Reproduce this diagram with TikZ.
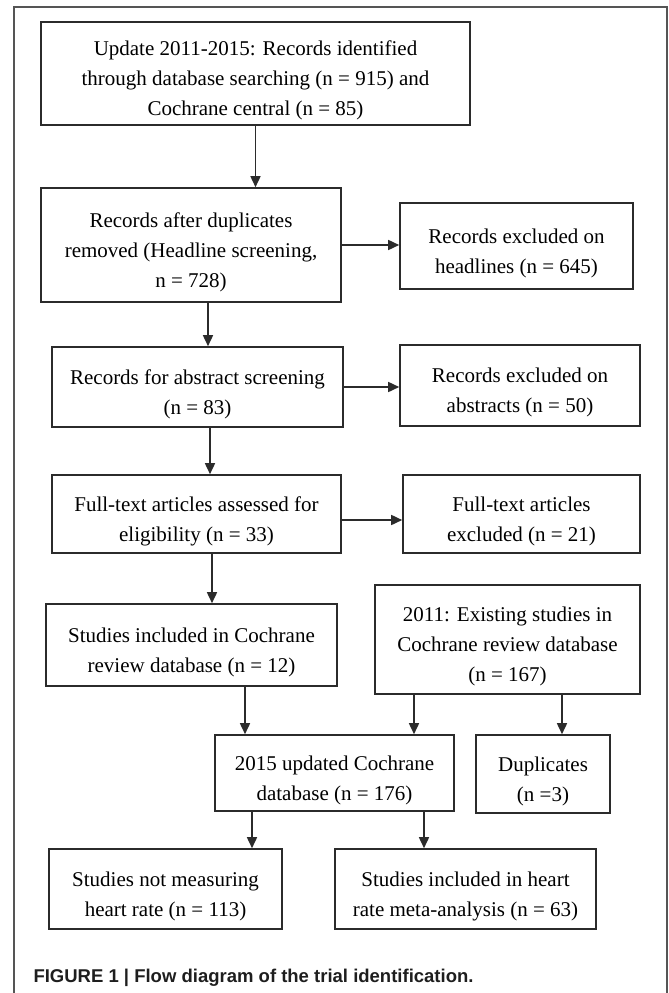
\documentclass[tikz,border=0pt]{standalone}
\usepackage{fontspec}
\setmainfont{Liberation Serif}
\newfontfamily\capfont{Liberation Sans}
\usepackage{xcolor}
\usepackage{tikz}
\usetikzlibrary{arrows.meta}
\definecolor{ink}{HTML}{2B2B2B}
\definecolor{rim}{HTML}{555555}
\definecolor{captxt}{HTML}{1E1E1E}
\tikzset{
  boxtext/.style={align=center, inner sep=0pt, text=black, yshift=-7pt,
    font=\fontsize{21}{30}\selectfont},
  box/.style={draw=ink, line width=1.6pt, inner sep=0pt, label={[boxtext]center:#1}},
  arr/.style={draw=ink, line width=1.6pt, -{Triangle[length=11pt,width=10pt]}},
  rimline/.style={draw=rim, line width=1.5pt},
  captext/.style={text=captxt, font=\capfont\bfseries\fontsize{18.5}{20}\selectfont, anchor=base west},
}

\begin{document}
\begin{tikzpicture}[x=1pt,y=-1pt]
  \useasboundingbox (0,0) rectangle (669,993);
  \draw[rimline] (14,993) -- (14,7) -- (667,7) -- (667,993);
  % boxes, left column
  \node[box={Update 2011-2015: Records identified\\through database searching (n = 915) and\\Cochrane central (n = 85)},
    minimum width=429, minimum height=103] (b1) at (255.5,73.5) {};
  \node[box={Records after duplicates\\removed (Headline screening,\\n = 728)},
    minimum width=300, minimum height=114] (b2) at (191,245) {};
  \node[box={Records for abstract screening\\(n = 83)},
    minimum width=291, minimum height=80] (b3) at (197.5,387) {};
  \node[box={Full-text articles assessed for\\eligibility (n = 33)},
    minimum width=289, minimum height=78] (b4) at (196.5,514) {};
  \node[box={Studies included in Cochrane\\review database (n = 12)},
    minimum width=291, minimum height=82] (b5) at (191.5,645) {};
  % boxes, right column
  \node[box={Records excluded on\\headlines (n = 645)},
    minimum width=233, minimum height=86] (ex1) at (516.5,246) {};
  \node[box={Records excluded on\\abstracts (n = 50)},
    minimum width=240, minimum height=81] (ex2) at (520,385.5) {};
  \node[box={Full-text articles\\excluded (n = 21)},
    minimum width=237, minimum height=78] (ex3) at (521.5,514) {};
  \node[box={2011: Existing studies in\\Cochrane review database\\(n = 167)},
    minimum width=265, minimum height=109] (old) at (507.5,639.5) {};
  % merged and final
  \node[box={2015 updated Cochrane\\database (n = 176)},
    minimum width=239, minimum height=76] (upd) at (334.5,773) {};
  \node[box={Duplicates\\(n =3)},
    minimum width=134, minimum height=78] (dup) at (543,774) {};
  \node[box={Studies not measuring\\heart rate (n = 113)},
    minimum width=233, minimum height=80] (nohr) at (165.5,889) {};
  \node[box={Studies included in heart\\rate meta-analysis (n = 63)},
    minimum width=261, minimum height=80] (hr) at (465.5,889) {};
  % arrows
  \draw[arr] (b1.south) -- (b1.south |- b2.north);
  \draw[arr] ([xshift=17pt]b2.south) -- ([xshift=17pt]b2.south |- b3.north);
  \draw[arr] ([xshift=12.5pt]b3.south) -- ([xshift=12.5pt]b3.south |- b4.north);
  \draw[arr] ([xshift=15.5pt]b4.south) -- ([xshift=15.5pt]b4.south |- b5.north);
  \draw[arr] (b2.east) -- (b2.east -| ex1.west);
  \draw[arr] (b3.east) -- (b3.east -| ex2.west);
  \draw[arr] ([yshift=-6pt]b4.east) -- ([yshift=-6pt]b4.east -| ex3.west);
  \draw[arr] ([xshift=53.5pt]b5.south) -- ([xshift=53.5pt]b5.south |- upd.north);
  \draw[arr] ([xshift=-93.5pt]old.south) -- ([xshift=-93.5pt]old.south |- upd.north);
  \draw[arr] ([xshift=54.5pt]old.south) -- ([xshift=54.5pt]old.south |- dup.north);
  \draw[arr] ([xshift=-82.5pt]upd.south) -- ([xshift=-82.5pt]upd.south |- nohr.north);
  \draw[arr] ([xshift=89.5pt]upd.south) -- ([xshift=89.5pt]upd.south |- hr.north);
  \node[captext] (caption) at (30,982) {FIGURE 1 | Flow diagram of the trial identification.};
\end{tikzpicture}
\end{document}
